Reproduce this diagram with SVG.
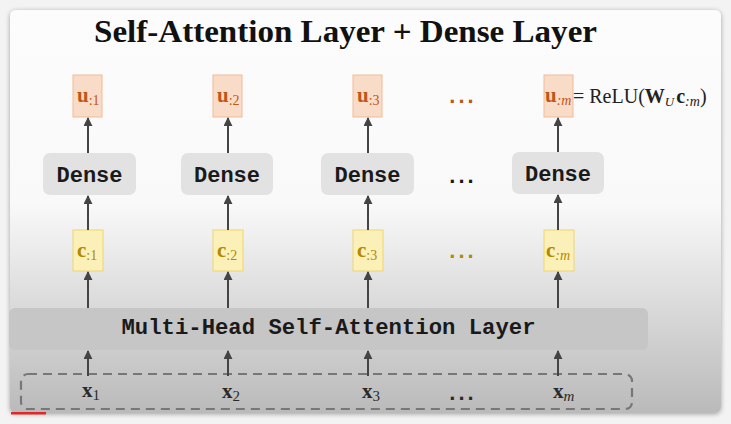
<svg xmlns="http://www.w3.org/2000/svg" width="731" height="424" viewBox="0 0 731 424">
<defs>
  <linearGradient id="bg" x1="0" y1="0" x2="0" y2="1">
    <stop offset="0" stop-color="#fcfcfc"/>
    <stop offset="0.48" stop-color="#f9f9f9"/>
    <stop offset="1" stop-color="#bababa"/>
  </linearGradient>
  <filter id="sh" x="-5%" y="-5%" width="110%" height="110%">
    <feGaussianBlur in="SourceAlpha" stdDeviation="2.5"/>
    <feOffset dx="0" dy="1"/>
    <feComponentTransfer><feFuncA type="linear" slope="0.35"/></feComponentTransfer>
    <feMerge><feMergeNode/><feMergeNode in="SourceGraphic"/></feMerge>
  </filter>
  <marker id="ah" viewBox="0 0 10 10" refX="9" refY="5" markerWidth="4.5" markerHeight="4.5" markerUnits="strokeWidth" orient="auto">
    <path d="M0,0 L10,5 L0,10 Z" fill="#444"/>
  </marker>
</defs>
<style>
  .title{font-family:"Liberation Serif","DejaVu Serif",serif;font-weight:bold;font-size:31px;fill:#111}
  .mono{font-family:"Liberation Mono","DejaVu Sans Mono",monospace;font-weight:bold;font-size:22px;fill:#1a1a1a}
  .dense{fill:#e2e2e2}
  .ubox{fill:#f8dcc8;stroke:#f1bb95;stroke-width:1}
  .cbox{fill:#fbf0b8;stroke:#eed672;stroke-width:1}
  .math{font-family:"Liberation Serif","DejaVu Serif",serif}
  .ut{fill:#c0561a}
  .ct{fill:#b08a00}
  .xt{fill:#2a2a2a}
  .b{font-weight:bold;font-size:21px}
  .s{font-size:14px}
  .dots{font-family:"Liberation Sans","DejaVu Sans",sans-serif;font-weight:bold;font-size:22px;letter-spacing:3px}
  .conn line{stroke:#444;stroke-width:2;marker-end:url(#ah)}
</style>
<rect x="0" y="0" width="731" height="424" fill="#f3f3f3"/>
<rect x="10" y="10" width="711" height="403" rx="6" fill="url(#bg)" filter="url(#sh)"/>
<rect x="11" y="412" width="35" height="2.5" fill="#e02828"/>

<text class="title" x="345.5" y="42" text-anchor="middle" textLength="503" lengthAdjust="spacingAndGlyphs">Self-Attention Layer + Dense Layer</text>

<g id="input-box">
  <rect x="21" y="374" width="611" height="35" rx="7" fill="none" stroke="#777" stroke-width="2.2" stroke-dasharray="9,6"/>
</g>

<g id="mhsa">
  <rect x="9" y="308" width="639" height="42" rx="6" fill="#c6c6c6"/>
  <text class="mono" x="328.5" y="334" text-anchor="middle" textLength="414" lengthAdjust="spacingAndGlyphs">Multi-Head Self-Attention Layer</text>
</g>

<g id="dense1"><rect class="dense" x="43" y="153" width="93" height="42" rx="7"/><text class="mono" x="89.5" y="182" text-anchor="middle">Dense</text></g>
<g id="dense2"><rect class="dense" x="181" y="153" width="92" height="42" rx="7"/><text class="mono" x="227" y="182" text-anchor="middle">Dense</text></g>
<g id="dense3"><rect class="dense" x="321" y="153" width="93" height="42" rx="7"/><text class="mono" x="367.5" y="182" text-anchor="middle">Dense</text></g>
<g id="densem"><rect class="dense" x="512" y="152" width="92" height="42" rx="7"/><text class="mono" x="558" y="181" text-anchor="middle">Dense</text></g>
<text class="dots" x="463" y="183" text-anchor="middle" fill="#1a1a1a">...</text>

<g id="u1"><rect class="ubox" x="73" y="75" width="29" height="42"/><text class="math ut" x="77" y="102"><tspan class="b">u</tspan><tspan class="s" dy="3">:1</tspan></text></g>
<g id="u2"><rect class="ubox" x="213" y="75" width="29" height="42"/><text class="math ut" x="217" y="102"><tspan class="b">u</tspan><tspan class="s" dy="3">:2</tspan></text></g>
<g id="u3"><rect class="ubox" x="353" y="75" width="29" height="42"/><text class="math ut" x="357" y="102"><tspan class="b">u</tspan><tspan class="s" dy="3">:3</tspan></text></g>
<g id="um"><rect class="ubox" x="544" y="75" width="29" height="42"/><text class="math ut" x="545" y="102"><tspan class="b">u</tspan><tspan class="s" dy="3" font-style="italic">:m</tspan></text></g>
<text class="dots" x="463" y="103" text-anchor="middle" fill="#c0561a">...</text>

<g id="formula">
  <text class="math" x="573" y="103" font-size="20" fill="#222">= ReLU(<tspan font-weight="bold">W</tspan><tspan font-size="13" font-style="italic" dy="3">U</tspan><tspan font-weight="bold" dy="-3" dx="2">c</tspan><tspan font-size="14" font-style="italic" dy="3">:m</tspan><tspan dy="-3">)</tspan></text>
</g>

<g id="c1"><rect class="cbox" x="73" y="230" width="30" height="41"/><text class="math ct" x="77" y="257"><tspan class="b">c</tspan><tspan class="s" dy="3">:1</tspan></text></g>
<g id="c2"><rect class="cbox" x="213" y="230" width="30" height="41"/><text class="math ct" x="217" y="257"><tspan class="b">c</tspan><tspan class="s" dy="3">:2</tspan></text></g>
<g id="c3"><rect class="cbox" x="353" y="230" width="30" height="41"/><text class="math ct" x="357" y="257"><tspan class="b">c</tspan><tspan class="s" dy="3">:3</tspan></text></g>
<g id="cm"><rect class="cbox" x="544" y="230" width="30" height="41"/><text class="math ct" x="546" y="257"><tspan class="b">c</tspan><tspan class="s" dy="3" font-style="italic">:m</tspan></text></g>
<text class="dots" x="463" y="258" text-anchor="middle" fill="#b08a00">...</text>

<g id="x1"><text class="math xt" x="82" y="397"><tspan class="b">x</tspan><tspan font-size="15" dy="3">1</tspan></text></g>
<g id="x2"><text class="math xt" x="222" y="398"><tspan class="b">x</tspan><tspan font-size="15" dy="3">2</tspan></text></g>
<g id="x3"><text class="math xt" x="362" y="398"><tspan class="b">x</tspan><tspan font-size="15" dy="3">3</tspan></text></g>
<g id="xm"><text class="math xt" x="553" y="398"><tspan class="b">x</tspan><tspan font-size="15" dy="3" font-style="italic">m</tspan></text></g>
<text class="dots" x="463" y="400" text-anchor="middle" fill="#2a2a2a">...</text>

<g id="connectors" class="conn">
  <line x1="88" y1="376" x2="88" y2="351"/>
  <line x1="228" y1="376" x2="228" y2="351"/>
  <line x1="368" y1="376" x2="368" y2="351"/>
  <line x1="558" y1="376" x2="558" y2="351"/>
  <line x1="88" y1="308" x2="88" y2="272"/>
  <line x1="228" y1="308" x2="228" y2="272"/>
  <line x1="368" y1="308" x2="368" y2="272"/>
  <line x1="558" y1="308" x2="558" y2="272"/>
  <line x1="88" y1="230" x2="88" y2="196"/>
  <line x1="228" y1="230" x2="228" y2="196"/>
  <line x1="368" y1="230" x2="368" y2="196"/>
  <line x1="558" y1="230" x2="558" y2="195"/>
  <line x1="88" y1="153" x2="88" y2="118"/>
  <line x1="228" y1="153" x2="228" y2="118"/>
  <line x1="368" y1="153" x2="368" y2="118"/>
  <line x1="558" y1="152" x2="558" y2="118"/>
</g>
</svg>
